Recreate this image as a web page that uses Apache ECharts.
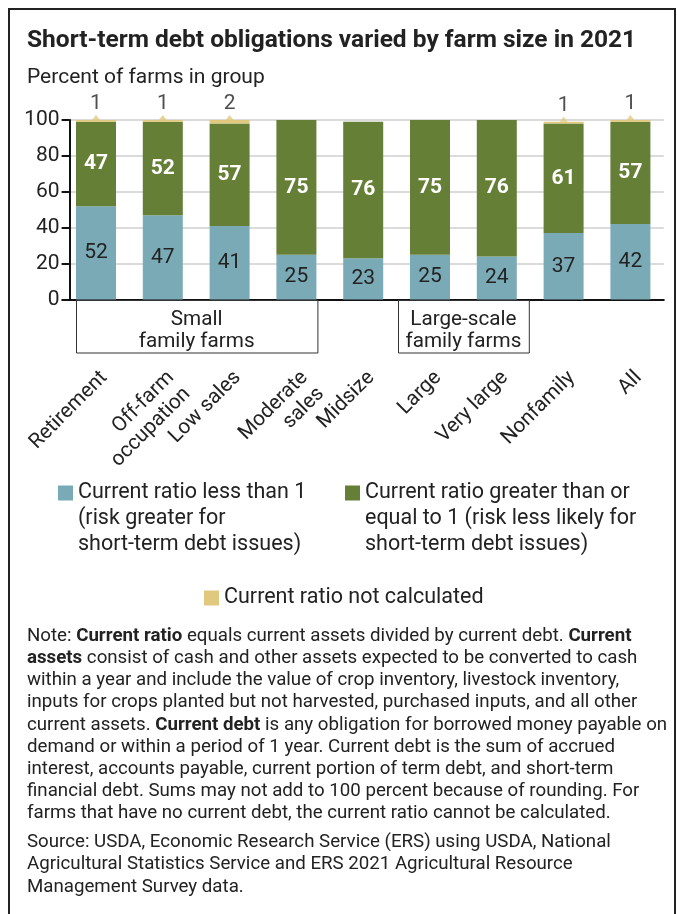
<!DOCTYPE html>
<html>
<head>
<meta charset="utf-8">
<script src="https://cdn.jsdelivr.net/npm/echarts@6/dist/echarts.min.js"></script>
<style>
  html, body { margin: 0; padding: 0; background: #fff; }
  #chart { width: 677px; height: 914px; }
</style>
</head>
<body>
<div id="chart"></div>
<script>
// Farm groups along the x axis
const categories = ['Retirement', 'Off-farm\noccupation', 'Low sales', 'Moderate\nsales',
  'Midsize', 'Large', 'Very large', 'Nonfamily', 'All'];

// Percent of farms in each group, by current ratio class
const ratioBelowOne = [52, 47, 41, 25, 23, 25, 24, 37, 42];
const ratioAtLeastOne = [47, 52, 57, 75, 76, 75, 76, 61, 57];
const ratioNotCalculated = [1, 1, 2, 0.4, 0, 0, 0, 1, 1];

// Bracketed category groups drawn under the axis
const groupNames = ['Small\nfamily farms', 'Large-scale\nfamily farms'];
const groupMembers = [[0, 3], [5, 6]];

const seriesNames = [
  'Current ratio less than 1\n(risk greater for\nshort-term debt issues)',
  'Current ratio greater than or\nequal to 1 (risk less likely for\nshort-term debt issues)',
  'Current ratio not calculated'
];

const COLORS = { blue: '#7BAAB7', green: '#657F36', gold: '#E0C97F', ink: '#222222' };
const FONT = 'Roboto, "Liberation Sans", sans-serif';

const totals = ratioBelowOne.map((v, i) => v + ratioAtLeastOne[i] + ratioNotCalculated[i]);
const pointerData = ratioNotCalculated.map((v, i) => (v >= 1 ? { value: totals[i], shown: v } : '-'));

// Legend entry whose square sits beside the first line of a multi-line name
function legendBox(name, left, top, lines) {
  const lh = 26;
  const h = lines * lh;
  const sq = 15;
  const y0 = (lh - sq) / 2;
  const icon = lines > 1
    ? 'path://M0,' + y0 + 'h' + sq + 'v' + sq + 'h-' + sq + 'Z M0,0h0.001v0.001h-0.001Z M0,' + (h - 0.001) + 'h0.001v0.001h-0.001Z'
    : 'rect';
  return {
    data: [name], left: left, top: top, orient: 'vertical', padding: 0,
    itemWidth: sq, itemHeight: lines > 1 ? h : sq, icon: icon, selectedMode: false,
    textStyle: { fontFamily: FONT, fontSize: 21.5, color: COLORS.ink, lineHeight: lh }
  };
}

const chart = echarts.init(document.getElementById('chart'), null, { renderer: 'canvas' });

const option = {
  animation: false,
  textStyle: { fontFamily: FONT },
  title: [
    {
      text: 'Short-term debt obligations varied by farm size in 2021',
      left: 22, top: 23,
      textStyle: { fontFamily: FONT, fontSize: 24.5, fontWeight: 'bold', color: COLORS.ink }
    },
    {
      text: 'Percent of farms in group',
      left: 22, top: 62,
      textStyle: { fontFamily: FONT, fontSize: 21, fontWeight: 'normal', color: COLORS.ink }
    }
  ],
  legend: [
    legendBox(seriesNames[0], 58, 480, 3),
    legendBox(seriesNames[1], 345, 480, 3),
    legendBox(seriesNames[2], 204, 585, 1)
  ],
  grid: { left: 62.6, right: 13.2, top: 120, bottom: 614.5, containLabel: false },
  xAxis: {
    type: 'category',
    data: categories,
    axisLine: { lineStyle: { color: '#111', width: 2 } },
    axisTick: { alignWithLabel: true, length: 63, lineStyle: { color: '#333', width: 1 } },
    axisLabel: {
      rotate: 45, margin: 67, interval: 0, verticalAlign: 'top',
      fontFamily: FONT, fontSize: 20.7, color: COLORS.ink, lineHeight: 23
    }
  },
  yAxis: {
    type: 'value', min: 0, max: 100, interval: 20, offset: -7,
    axisLine: { show: true, lineStyle: { color: '#111', width: 2 } },
    axisTick: { show: true, length: 8, lineStyle: { color: '#111', width: 2 } },
    axisLabel: { fontFamily: FONT, fontSize: 21, color: COLORS.ink, margin: 10 },
    splitLine: { lineStyle: { color: '#cfcfcf', width: 1.5 } }
  },
  series: [
    {
      name: seriesNames[0], type: 'bar', stack: 'share', barWidth: 40,
      data: ratioBelowOne,
      itemStyle: { color: COLORS.blue },
      label: { show: true, position: 'inside', fontFamily: FONT, fontSize: 21, color: COLORS.ink }
    },
    {
      name: seriesNames[1], type: 'bar', stack: 'share', barWidth: 40,
      data: ratioAtLeastOne,
      itemStyle: { color: COLORS.green },
      label: { show: true, position: 'inside', fontFamily: FONT, fontSize: 21, fontWeight: 'bold', color: '#fff' }
    },
    {
      name: seriesNames[2], type: 'bar', stack: 'share', barWidth: 40,
      data: ratioNotCalculated,
      itemStyle: { color: COLORS.gold }
    },
    {
      // pointer triangles and value labels for the thin top segments
      name: 'pointer', type: 'scatter', z: 5,
      data: pointerData,
      symbol: 'triangle', symbolSize: [8, 5], symbolOffset: [0, -2.5],
      itemStyle: { color: COLORS.gold },
      label: {
        show: true, position: 'top', distance: 1,
        fontFamily: FONT, fontSize: 21, color: COLORS.ink,
        formatter: p => String(p.data.shown)
      }
    }
  ]
};

chart.setOption(option);

// Notes and source beneath the chart
const noteText = [
  'Note: {b|Current ratio} equals current assets divided by current debt. {b|Current}',
  '{b|assets} consist of cash and other assets expected to be converted to cash',
  'within a year and include the value of crop inventory, livestock inventory,',
  'inputs for crops planted but not harvested, purchased inputs, and all other',
  'current assets. {b|Current debt} is any obligation for borrowed money payable on',
  'demand or within a period of 1 year. Current debt is the sum of accrued',
  'interest, accounts payable, current portion of term debt, and short-term',
  'financial debt. Sums may not add to 100 percent because of rounding. For',
  'farms that have no current debt, the current ratio cannot be calculated.'
].join('\n');
const sourceText = [
  'Source: USDA, Economic Research Service (ERS) using USDA, National',
  'Agricultural Statistics Service and ERS 2021 Agricultural Resource',
  'Management Survey data.'
].join('\n');

// Group brackets placed from the category axis positions
const axisY = chart.convertToPixel({ yAxisIndex: 0 }, 0);
const bracketGraphics = [];
groupNames.forEach((name, g) => {
  const [a, b] = groupMembers[g];
  const xa = chart.convertToPixel({ xAxisIndex: 0 }, a);
  const xb = chart.convertToPixel({ xAxisIndex: 0 }, b);
  const pad = (b - a) > 1 ? 20 : 32;
  const x0 = xa - pad, x1 = xb + pad + (b - a > 1 ? 1 : 0);
  bracketGraphics.push({
    type: 'rect', z: 100,
    shape: { x: x0 + 0.5, y: axisY + 1, width: x1 - x0, height: 52.5 },
    style: { fill: '#fff', stroke: '#333', lineWidth: 1 }
  });
  bracketGraphics.push({
    type: 'text', z: 101,
    x: (x0 + x1) / 2, y: axisY + 31,
    style: {
      text: name, fontFamily: FONT, fontSize: 20.7, fill: COLORS.ink,
      align: 'center', verticalAlign: 'middle', lineHeight: 22
    }
  });
});

const NOTE_SIZE = 18.7;
chart.setOption({
  graphic: [
    // frame
    { type: 'polyline', z: 100, shape: { points: [[9, 920], [9, 9], [675, 9], [675, 920]] },
      style: { stroke: '#222', lineWidth: 2, fill: null } },
    ...bracketGraphics,
    {
      type: 'text', z: 100, x: 27, y: 625,
      style: {
        text: noteText, fontFamily: FONT, fontSize: NOTE_SIZE, fill: COLORS.ink, lineHeight: 22.2,
        rich: { b: { fontFamily: FONT, fontSize: NOTE_SIZE, fontWeight: 'bold', fill: COLORS.ink, lineHeight: 22.2 } }
      }
    },
    {
      type: 'text', z: 100, x: 27, y: 831,
      style: { text: sourceText, fontFamily: FONT, fontSize: NOTE_SIZE, fill: COLORS.ink, lineHeight: 22.4 }
    }
  ]
});
</script>
</body>
</html>
